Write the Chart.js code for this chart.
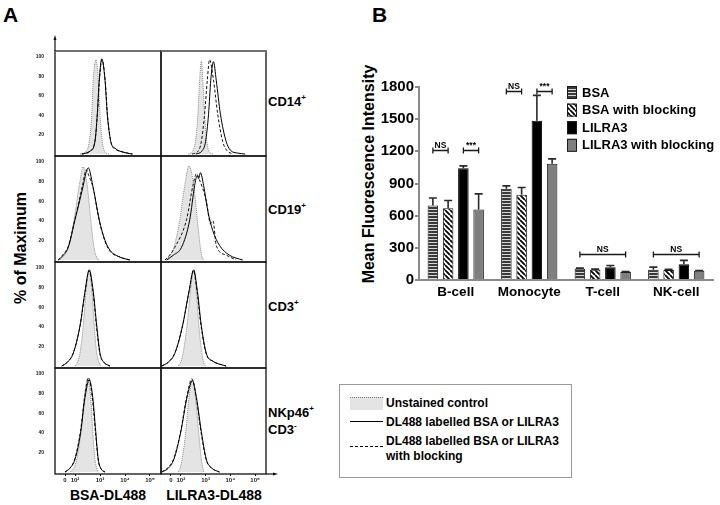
<!DOCTYPE html>
<html><head><meta charset="utf-8">
<script src="https://cdn.jsdelivr.net/npm/chart.js@4.4.0/dist/chart.umd.min.js"></script>
<style>
html,body{margin:0;padding:0;background:#fff;}
#wrap{position:relative;width:720px;height:505px;overflow:hidden;font-family:"Liberation Sans",Arial,sans-serif;color:#000;background:#fff;}
#wrap canvas{position:absolute;}
.t{position:absolute;font-weight:bold;line-height:1;white-space:nowrap;}
.rot{transform:translate(-50%,-50%) rotate(-90deg);}
sup{font-size:62%;vertical-align:top;position:relative;top:-1px;}
</style></head><body><div id="wrap">
<div class="t" style="left:3px;top:4px;font-size:21px;">A</div>
<div class="t" style="left:372px;top:4px;font-size:21px;">B</div>
<div class="t rot" style="left:21px;top:248px;font-size:16px;">% of Maximum</div>
<div class="t rot" style="left:369px;top:174px;font-size:16px;">Mean Fluorescence Intensity</div>
<div class="t" style="left:268px;top:95px;font-size:13px;">CD14<sup>+</sup></div>
<div class="t" style="left:268px;top:203px;font-size:13px;">CD19<sup>+</sup></div>
<div class="t" style="left:268px;top:300px;font-size:13px;">CD3<sup>+</sup></div>
<div class="t" style="left:268px;top:406px;font-size:13px;">NKp46<sup>+</sup></div>
<div class="t" style="left:268px;top:423px;font-size:13px;">CD3<sup>-</sup></div>
<div class="t" style="left:108px;top:488px;font-size:14px;transform:translateX(-50%);">BSA-DL488</div>
<div class="t" style="left:214px;top:488px;font-size:14px;transform:translateX(-50%);">LILRA3-DL488</div>
<div style="position:absolute;left:339px;top:384px;width:231px;height:92px;border:1px solid #999;"></div>
<div style="position:absolute;left:350px;top:397px;width:33px;height:12px;background:#e4e4e4;border-top:1px dotted #777;"></div>
<div style="position:absolute;left:350px;top:421px;width:33px;height:0;border-top:1.5px solid #000;"></div>
<div style="position:absolute;left:350px;top:446px;width:33px;height:0;border-top:1.5px dashed #000;"></div>
<div class="t" style="left:386px;top:397px;font-size:12px;">Unstained control</div>
<div class="t" style="left:386px;top:416px;font-size:12px;">DL488 labelled BSA or LILRA3</div>
<div class="t" style="left:386px;top:435px;font-size:12px;">DL488 labelled BSA or LILRA3</div>
<div class="t" style="left:386px;top:450px;font-size:12px;">with blocking</div>
</div>
<script>
Chart.defaults.font.family = '"Liberation Sans", Arial, sans-serif';
Chart.defaults.color = '#000';

// ---------- Panel B data ----------
const categories = ['B-cell', 'Monocyte', 'T-cell', 'NK-cell'];
const seriesNames = ['BSA', 'BSA with blocking', 'LILRA3', 'LILRA3 with blocking'];
const bsaMean = [695, 850, 105, 96];
const bsaErr = [70, 28, 6, 24];
const bsaBlockMean = [670, 795, 95, 93];
const bsaBlockErr = [72, 68, 6, 7];
const lilra3Mean = [1042, 1485, 120, 148];
const lilra3Err = [22, 237, 15, 35];
const lilra3BlockMean = [658, 1085, 75, 86];
const lilra3BlockErr = [145, 45, 4, 2];
// significance brackets
const sigCategory = [0, 0, 1, 1, 2, 3];
const sigFromSeries = [0, 2, 0, 2, 0, 0];
const sigToSeries = [1, 3, 1, 3, 3, 3];
const sigLevel = [1215, 1215, 1762, 1762, 243, 243];
const sigText = ['NS', '***', 'NS', '***', 'NS', 'NS'];

// ---------- Panel A data (x in log-decade units, y in % of max) ----------
const xTickValues = [1.6, 2, 3, 4, 5];
const xTickLabels = ['0', '10²', '10³', '10⁴', '10⁵'];
const yTickValues = [20, 40, 60, 80, 100];

const cd14BsaUnstained = [[2.2,0],[2.45,3],[2.57,13],[2.67,41],[2.73,76],[2.84,97],[2.93,76],[3.0,41],[3.09,13],[3.2,2],[3.35,0]];
const cd14BsaSolid = [[2.27,0],[2.6,3],[2.8,13],[2.89,41],[2.97,76],[3.07,98],[3.2,76],[3.29,41],[3.43,13],[3.6,6],[3.92,2],[4.3,0]];
const cd14BsaBlocked = [[2.27,0],[2.6,3],[2.8,14],[2.9,42],[2.98,77],[3.08,97],[3.21,75],[3.3,40],[3.44,12],[3.62,5],[3.95,2],[4.3,0]];
const cd14LilUnstained = [[2.3,0],[2.48,3],[2.59,13],[2.69,41],[2.76,76],[2.83,96],[2.89,76],[2.96,41],[3.05,13],[3.19,1],[3.3,0]];
const cd14LilSolid = [[2.6,0],[2.85,3],[3.0,13],[3.12,41],[3.21,76],[3.32,95],[3.43,76],[3.6,41],[3.83,13],[4.0,4],[4.3,1],[4.6,0]];
const cd14LilBlocked = [[2.45,0],[2.7,3],[2.83,13],[2.96,41],[3.07,76],[3.16,97],[3.32,76],[3.49,41],[3.69,13],[3.85,4],[4.1,0]];

const cd19BsaUnstained = [[1.4,0],[1.55,4],[1.73,13],[1.96,41],[2.17,76],[2.33,95],[2.49,76],[2.63,41],[2.76,13],[2.88,2],[2.95,0]];
const cd19BsaSolid = [[1.33,0],[1.5,4],[1.73,13],[2.0,41],[2.33,76],[2.43,88],[2.53,94],[2.71,76],[2.97,41],[3.2,20],[3.4,10],[3.8,3],[4.2,0]];
const cd19BsaBlocked = [[1.33,0],[1.5,5],[1.73,14],[2.0,42],[2.3,76],[2.45,92],[2.55,86],[2.72,74],[2.97,40],[3.2,19],[3.4,9],[3.8,3],[4.2,0]];
const cd19LilUnstained = [[1.36,0],[1.55,4],[1.72,13],[1.96,41],[2.16,76],[2.33,96],[2.52,76],[2.67,41],[2.79,13],[2.89,1],[2.95,0]];
const cd19LilSolid = [[1.43,0],[1.7,5],[2.03,13],[2.36,41],[2.56,76],[2.66,86],[2.72,83],[2.79,89],[2.92,76],[3.09,50],[3.29,30],[3.56,15],[3.96,5],[4.5,0]];
const cd19LilBlocked = [[1.36,0],[1.55,5],[1.76,13],[2.23,41],[2.49,76],[2.63,88],[2.75,82],[3.03,60],[3.2,37],[3.3,40],[3.43,15],[3.83,5],[4.23,0]];

const cd3BsaUnstained = [[2.0,0],[2.1,4],[2.2,13],[2.33,41],[2.44,76],[2.57,98],[2.68,76],[2.77,41],[2.87,13],[2.97,3],[3.07,0]];
const cd3BsaSolid = [[1.47,0],[1.7,4],[1.93,13],[2.2,41],[2.4,76],[2.57,98],[2.73,76],[2.87,41],[3.0,13],[3.15,4],[3.4,0]];
const cd3BsaBlocked = [[1.47,0],[1.7,4],[1.94,14],[2.21,42],[2.41,77],[2.56,97],[2.72,75],[2.86,40],[3.0,12],[3.15,4],[3.4,0]];
const cd3LilUnstained = [[1.89,0],[2.0,4],[2.09,13],[2.25,41],[2.39,76],[2.52,98],[2.63,76],[2.73,41],[2.85,13],[2.93,3],[3.0,0]];
const cd3LilSolid = [[1.23,0],[1.5,4],[1.76,13],[2.07,41],[2.33,76],[2.52,98],[2.67,76],[2.83,41],[3.03,13],[3.29,5],[3.83,0]];
const cd3LilBlocked = [[1.23,0],[1.5,4],[1.77,14],[2.08,42],[2.34,77],[2.51,97],[2.66,75],[2.82,40],[3.03,12],[3.3,5],[3.83,0]];

const nkBsaUnstained = [[1.8,0],[1.95,4],[2.07,13],[2.24,41],[2.37,76],[2.51,96],[2.63,76],[2.71,41],[2.8,13],[2.88,3],[2.93,0]];
const nkBsaSolid = [[1.6,0],[1.8,4],[2.0,13],[2.23,41],[2.4,76],[2.57,94],[2.71,76],[2.83,41],[2.93,13],[3.05,3],[3.2,0]];
const nkBsaBlocked = [[1.6,0],[1.8,4],[2.0,14],[2.22,42],[2.39,77],[2.54,96],[2.69,76],[2.82,40],[2.93,12],[3.05,3],[3.2,0]];
const nkLilUnstained = [[1.89,0],[1.97,4],[2.05,13],[2.2,41],[2.33,76],[2.47,94],[2.59,76],[2.72,41],[2.83,13],[2.9,3],[2.93,0]];
const nkLilSolid = [[1.23,0],[1.5,4],[1.72,13],[2.0,41],[2.25,76],[2.47,93],[2.63,76],[2.83,41],[3.03,13],[3.25,4],[3.56,0]];
const nkLilBlocked = [[1.23,0],[1.5,5],[1.72,14],[2.0,42],[2.24,77],[2.45,95],[2.62,76],[2.82,40],[3.03,12],[3.25,4],[3.56,0]];

const wrap = document.getElementById('wrap');
function addCanvas(left, top, w, h) {
  const c = document.createElement('canvas');
  c.width = w; c.height = h;
  c.style.left = left + 'px'; c.style.top = top + 'px';
  c.style.width = w + 'px'; c.style.height = h + 'px';
  wrap.appendChild(c);
  return c;
}

// ---------- patterns ----------
function hStripePattern(ctx) {
  const c = document.createElement('canvas'); c.width = 4; c.height = 3;
  const x = c.getContext('2d');
  x.fillStyle = '#d8d8d8'; x.fillRect(0, 0, 4, 3);
  x.fillStyle = '#3a3a3a'; x.fillRect(0, 0, 4, 2);
  return ctx.createPattern(c, 'repeat');
}
function dStripePattern(ctx) {
  const s = 5;
  const c = document.createElement('canvas'); c.width = s; c.height = s;
  const x = c.getContext('2d');
  x.fillStyle = '#fff'; x.fillRect(0, 0, s, s);
  x.strokeStyle = '#000'; x.lineWidth = 1.8;
  x.beginPath();
  x.moveTo(-s, 0); x.lineTo(0, s);
  x.moveTo(0, 0); x.lineTo(s, s);
  x.moveTo(s, 0); x.lineTo(2 * s, s);
  x.stroke();
  return ctx.createPattern(c, 'repeat');
}

// ---------- Panel B chart ----------
const barCanvas = addCanvas(360, 60, 360, 250);
const bctx = barCanvas.getContext('2d');

const errorBarsPlugin = {
  id: 'errorBars',
  afterDatasetsDraw(chart, args, o) {
    const ctx = chart.ctx, y = chart.scales.y;
    chart.data.datasets.forEach((ds, i) => {
      chart.getDatasetMeta(i).data.forEach((bar, j) => {
        const v = ds.data[j], e = ds.errors[j];
        const y0 = y.getPixelForValue(v), y1 = y.getPixelForValue(v + e);
        ctx.save();
        ctx.strokeStyle = o.color; ctx.lineWidth = o.width;
        ctx.beginPath();
        ctx.moveTo(bar.x, y0); ctx.lineTo(bar.x, y1);
        ctx.moveTo(bar.x - o.cap / 2, y1); ctx.lineTo(bar.x + o.cap / 2, y1);
        ctx.stroke();
        ctx.restore();
      });
    });
  }
};
const sigPlugin = {
  id: 'sigBrackets',
  afterDraw(chart, args, o) {
    const ctx = chart.ctx, y = chart.scales.y;
    sigCategory.forEach((cat, k) => {
      const a = chart.getDatasetMeta(sigFromSeries[k]).data[cat].x;
      const b = chart.getDatasetMeta(sigToSeries[k]).data[cat].x;
      const yy = Math.round(y.getPixelForValue(sigLevel[k])) + 0.5;
      ctx.save();
      ctx.strokeStyle = o.color; ctx.lineWidth = o.width;
      ctx.beginPath();
      ctx.moveTo(a, yy); ctx.lineTo(b, yy);
      ctx.moveTo(a, yy - o.tick); ctx.lineTo(a, yy + o.tick);
      ctx.moveTo(b, yy - o.tick); ctx.lineTo(b, yy + o.tick);
      ctx.stroke();
      ctx.fillStyle = '#000';
      ctx.font = o.font;
      ctx.textAlign = 'center'; ctx.textBaseline = 'bottom';
      ctx.fillText(sigText[k], (a + b) / 2, yy - 0.5);
      ctx.restore();
    });
  }
};
const barLegendPlugin = {
  id: 'barLegend',
  afterDraw(chart, args, o) {
    const ctx = chart.ctx;
    chart.data.datasets.forEach((ds, i) => {
      const yc = o.y0 + i * o.step;
      ctx.save();
      ctx.fillStyle = ds.backgroundColor;
      ctx.fillRect(o.x, yc - o.h / 2, o.w, o.h);
      ctx.strokeStyle = '#1a1a1a'; ctx.lineWidth = 1;
      ctx.strokeRect(o.x + 0.5, yc - o.h / 2 + 0.5, o.w - 1, o.h - 1);
      ctx.fillStyle = '#000';
      ctx.font = o.font;
      ctx.textAlign = 'left'; ctx.textBaseline = 'middle';
      ctx.fillText(ds.label, o.x + o.w + o.gap, yc + 0.5);
      ctx.restore();
    });
  }
};

new Chart(barCanvas, {
  type: 'bar',
  data: {
    labels: categories,
    datasets: [
      { label: seriesNames[0], data: bsaMean, errors: bsaErr, backgroundColor: hStripePattern(bctx), borderColor: '#1a1a1a', borderWidth: 1 },
      { label: seriesNames[1], data: bsaBlockMean, errors: bsaBlockErr, backgroundColor: dStripePattern(bctx), borderColor: '#1a1a1a', borderWidth: 1 },
      { label: seriesNames[2], data: lilra3Mean, errors: lilra3Err, backgroundColor: '#000000', borderColor: '#000', borderWidth: 1 },
      { label: seriesNames[3], data: lilra3BlockMean, errors: lilra3BlockErr, backgroundColor: '#7f7f7f', borderColor: '#1a1a1a', borderWidth: 1 }
    ]
  },
  plugins: [errorBarsPlugin, sigPlugin, barLegendPlugin],
  options: {
    responsive: false,
    animation: false,
    events: [],
    layout: { padding: { left: 0, right: 7, top: 27, bottom: 0 } },
    datasets: { bar: { categoryPercentage: 0.83, barPercentage: 0.69 } },
    plugins: {
      legend: { display: false },
      tooltip: { enabled: false },
      errorBars: { color: '#2a2a2a', width: 1.6, cap: 8 },
      sigBrackets: { color: '#1a1a1a', width: 1.3, tick: 3, font: 'bold 8.5px "Liberation Sans", Arial, sans-serif' },
      barLegend: { x: 207, w: 10, h: 13, y0: 32.5, step: 17.6, gap: 5, font: 'bold 13px "Liberation Sans", Arial, sans-serif' }
    },
    scales: {
      x: {
        grid: { display: false, drawTicks: false },
        border: { color: '#8a8a8a', width: 2 },
        ticks: { color: '#000', font: { size: 13.5, weight: 'bold' }, padding: 4, maxRotation: 0 },
        afterFit(s) { s.height = 30; }
      },
      y: {
        min: 0, max: 1800,
        ticks: { stepSize: 300, color: '#000', font: { size: 15, weight: 'bold' }, padding: 1, callback: (v) => String(v) },
        grid: { drawOnChartArea: false, drawTicks: true, tickLength: 4, color: '#8a8a8a', lineWidth: 2 },
        border: { color: '#8a8a8a', width: 2 },
        afterFit(s) { s.width = 59; }
      }
    }
  }
});

// ---------- Panel A histograms ----------
const colLeft = [55, 161], colW = [106, 105];
const rowTop = [51, 156, 262, 368], rowH = [105, 106, 106, 106];
const AXW = 30, AXH = 20, PAD = 20;
const panels = [
  { row: 0, col: 0, un: cd14BsaUnstained, so: cd14BsaSolid, da: cd14BsaBlocked },
  { row: 0, col: 1, un: cd14LilUnstained, so: cd14LilSolid, da: cd14LilBlocked },
  { row: 1, col: 0, un: cd19BsaUnstained, so: cd19BsaSolid, da: cd19BsaBlocked },
  { row: 1, col: 1, un: cd19LilUnstained, so: cd19LilSolid, da: cd19LilBlocked },
  { row: 2, col: 0, un: cd3BsaUnstained, so: cd3BsaSolid, da: cd3BsaBlocked },
  { row: 2, col: 1, un: cd3LilUnstained, so: cd3LilSolid, da: cd3LilBlocked },
  { row: 3, col: 0, un: nkBsaUnstained, so: nkBsaSolid, da: nkBsaBlocked },
  { row: 3, col: 1, un: nkLilUnstained, so: nkLilSolid, da: nkLilBlocked }
];

const framePlugin = {
  id: 'frame',
  afterDatasetsDraw(chart, args, o) {
    const ctx = chart.ctx, a = chart.chartArea;
    ctx.save();
    ctx.strokeStyle = '#111'; ctx.lineWidth = 1.3;
    ctx.strokeRect(a.left, a.top, a.right - a.left, a.bottom - a.top);
    if (o.topGray) {
      ctx.strokeStyle = '#707070'; ctx.lineWidth = 2;
      ctx.beginPath(); ctx.moveTo(a.left, a.top); ctx.lineTo(a.right + 1, a.top); ctx.stroke();
    }
    ctx.strokeStyle = '#111'; ctx.fillStyle = '#111'; ctx.lineWidth = 1.2;
    if (o.yArrow) {
      ctx.beginPath(); ctx.moveTo(a.left, a.top); ctx.lineTo(a.left, a.top - 13); ctx.stroke();
      ctx.beginPath(); ctx.moveTo(a.left, a.top - 16); ctx.lineTo(a.left - 1.5, a.top - 11); ctx.lineTo(a.left + 1.5, a.top - 11); ctx.closePath(); ctx.fill();
    }
    if (o.xArrow) {
      ctx.beginPath(); ctx.moveTo(a.right, a.bottom); ctx.lineTo(a.right + 9, a.bottom); ctx.stroke();
      ctx.beginPath(); ctx.moveTo(a.right + 12, a.bottom); ctx.lineTo(a.right + 7, a.bottom - 1.5); ctx.lineTo(a.right + 7, a.bottom + 1.5); ctx.closePath(); ctx.fill();
    }
    ctx.restore();
  }
};

const toPts = arr => arr.map(p => ({ x: p[0], y: p[1] }));

panels.forEach(p => {
  const W = colW[p.col] + AXW + PAD, H = rowH[p.row] + PAD + AXH;
  const cv = addCanvas(colLeft[p.col] - AXW, rowTop[p.row] - PAD, W, H);
  const bottomRow = p.row === 3, leftCol = p.col === 0;
  new Chart(cv, {
    type: 'line',
    data: {
      datasets: [
        { label: 'DL488 labelled BSA or LILRA3', data: toPts(p.so), borderColor: '#000', borderWidth: 1, fill: false, order: 1 },
        { label: 'DL488 labelled BSA or LILRA3 with blocking', data: toPts(p.da), borderColor: '#111', borderWidth: 1, borderDash: [3, 2], fill: false, order: 2 },
        { label: 'Unstained control', data: toPts(p.un), borderColor: '#8a8a8a', borderWidth: 1, borderDash: [1, 1], backgroundColor: '#e4e4e4', fill: 'origin', order: 3 }
      ]
    },
    plugins: [framePlugin],
    options: {
      responsive: false,
      animation: false,
      events: [],
      layout: { padding: { left: 0, top: PAD, right: PAD, bottom: 0 } },
      elements: { point: { radius: 0 }, line: { cubicInterpolationMode: 'monotone' } },
      plugins: {
        legend: { display: false }, tooltip: { enabled: false },
        frame: { topGray: p.row === 0, yArrow: p.row === 0 && p.col === 0, xArrow: p.row === 3 && p.col === 1 }
      },
      scales: {
        x: {
          type: 'linear', min: 1.2, max: 5.44,
          afterBuildTicks(s) { s.ticks = xTickValues.map(v => ({ value: v })); },
          ticks: {
            display: bottomRow, autoSkip: false, maxRotation: 0, padding: 1,
            color: '#222', font: { size: 6, weight: 'bold' },
            callback: (v, i) => xTickLabels[i]
          },
          grid: { display: bottomRow, drawOnChartArea: false, drawTicks: true, tickLength: 2, color: '#111' },
          border: { display: false },
          afterFit(s) { s.height = AXH; }
        },
        y: {
          type: 'linear', min: -2, max: 106,
          afterBuildTicks(s) { s.ticks = yTickValues.map(v => ({ value: v })); },
          ticks: {
            display: leftCol, autoSkip: false, padding: 3,
            color: '#222', font: { size: 5, weight: 'bold' },
            callback: (v) => String(v)
          },
          grid: { display: false },
          border: { display: false },
          afterFit(s) { s.width = AXW; }
        }
      }
    }
  });
});
</script>
</body></html>
